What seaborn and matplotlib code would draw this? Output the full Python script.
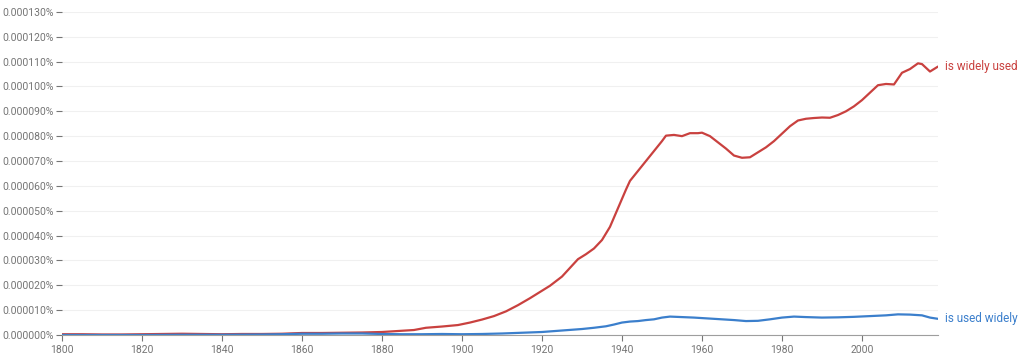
import pandas as pd
import seaborn as sns
import matplotlib.pyplot as plt
from matplotlib.ticker import FuncFormatter, MultipleLocator

# Frequencies in units of 0.000001 %
red_years = [1800, 1805, 1810, 1815, 1820, 1825, 1830, 1835, 1840, 1845, 1850, 1855,
             1860, 1865, 1870, 1875, 1880, 1885, 1888, 1891, 1895, 1899, 1902, 1905,
             1908, 1911, 1914, 1917, 1920, 1922, 1925, 1927, 1929, 1931, 1933, 1935,
             1937, 1939, 1941, 1942, 1944, 1946, 1948, 1950, 1951, 1953, 1955, 1957,
             1959, 1960, 1962, 1964, 1966, 1968, 1970, 1972, 1974, 1976, 1978, 1980,
             1982, 1984, 1986, 1988, 1990, 1992, 1994, 1996, 1998, 2000, 2002, 2004,
             2006, 2008, 2010, 2012, 2014, 2015, 2017, 2019]
red_values = [0.3, 0.3, 0.2, 0.2, 0.3, 0.4, 0.5, 0.4, 0.3, 0.4, 0.4, 0.5,
              0.8, 0.8, 0.9, 1.0, 1.2, 1.7, 2.0, 2.9, 3.4, 4.0, 5.0, 6.2,
              7.6, 9.5, 12.0, 14.8, 17.8, 19.8, 23.5, 27.0, 30.5, 32.5, 34.8, 38.2,
              43.5, 51.0, 58.5, 62.0, 66.0, 70.0, 74.0, 78.0, 80.2, 80.5, 80.0, 81.2,
              81.2, 81.4, 80.0, 77.5, 75.0, 72.2, 71.3, 71.5, 73.5, 75.5, 78.0, 81.0,
              84.0, 86.3, 87.0, 87.3, 87.5, 87.4, 88.5, 90.0, 92.0, 94.5, 97.5, 100.5,
              101.0, 100.8, 105.5, 107.0, 109.3, 109.0, 106.0, 108.0]

blue_years = [1800, 1810, 1820, 1830, 1840, 1850, 1855, 1860, 1865, 1870, 1875, 1880,
              1885, 1890, 1895, 1900, 1905, 1910, 1915, 1920, 1925, 1930, 1933, 1936,
              1938, 1940, 1942, 1944, 1946, 1948, 1950, 1952, 1955, 1958, 1961, 1965,
              1968, 1971, 1974, 1977, 1980, 1983, 1986, 1990, 1994, 1998, 2002, 2006,
              2009, 2012, 2015, 2017, 2019]
blue_values = [0.0, 0.0, 0.0, 0.1, 0.1, 0.2, 0.3, 0.5, 0.5, 0.6, 0.6, 0.4,
               0.3, 0.3, 0.4, 0.3, 0.4, 0.6, 0.9, 1.2, 1.8, 2.4, 2.9, 3.5,
               4.2, 5.0, 5.4, 5.6, 6.0, 6.3, 7.0, 7.4, 7.2, 7.0, 6.7, 6.3,
               6.0, 5.6, 5.7, 6.3, 7.0, 7.4, 7.2, 7.0, 7.1, 7.3, 7.6, 7.9,
               8.3, 8.2, 7.9, 7.0, 6.5]

labels = ['is widely used', 'is used widely']
colors = ['#c9413f', '#3b7fcc']

data = pd.concat([
    pd.DataFrame({'year': red_years, 'value': red_values, 'phrase': labels[0]}),
    pd.DataFrame({'year': blue_years, 'value': blue_values, 'phrase': labels[1]}),
])

sns.set_theme(style="white")
plt.rcParams['font.family'] = ['Roboto', 'DejaVu Sans']

fig = plt.figure(figsize=(10.24, 3.59), dpi=100)
ax = fig.add_axes([0.0605, 0.0669, 0.8555, 0.9])

sns.lineplot(data=data, x='year', y='value', hue='phrase', palette=colors,
             linewidth=1.6, ax=ax, legend=False)

# Labels at line ends
for lab, col, yrs, vals in [(labels[0], colors[0], red_years, red_values),
                            (labels[1], colors[1], blue_years, blue_values)]:
    ax.annotate(lab, xy=(yrs[-1], vals[-1]), xytext=(5, 0), textcoords='offset points',
                va='center', ha='left', color=col, fontsize=8.5, annotation_clip=False)

ax.set_xlim(1800, 2019)
ax.set_ylim(0, 130)
ax.xaxis.set_major_locator(MultipleLocator(20))
ax.yaxis.set_major_locator(MultipleLocator(10))
ax.yaxis.set_major_formatter(FuncFormatter(lambda v, p: f"{v * 1e-6:.6f}%"))

ax.grid(axis='y', color='#f0f0f0', linewidth=0.8)
for s in ['top', 'right', 'left']:
    ax.spines[s].set_visible(False)
ax.spines['bottom'].set_color('#9e9e9e')
ax.spines['bottom'].set_linewidth(0.8)
ax.tick_params(axis='both', labelsize=7.5, colors='#757575', length=4, width=0.8,
               direction='out', pad=2)
ax.tick_params(axis='x', bottom=True, pad=3)
ax.tick_params(axis='y', left=True)
ax.set_xlabel('')
ax.set_ylabel('')

fig.savefig('out.png', dpi=100)
